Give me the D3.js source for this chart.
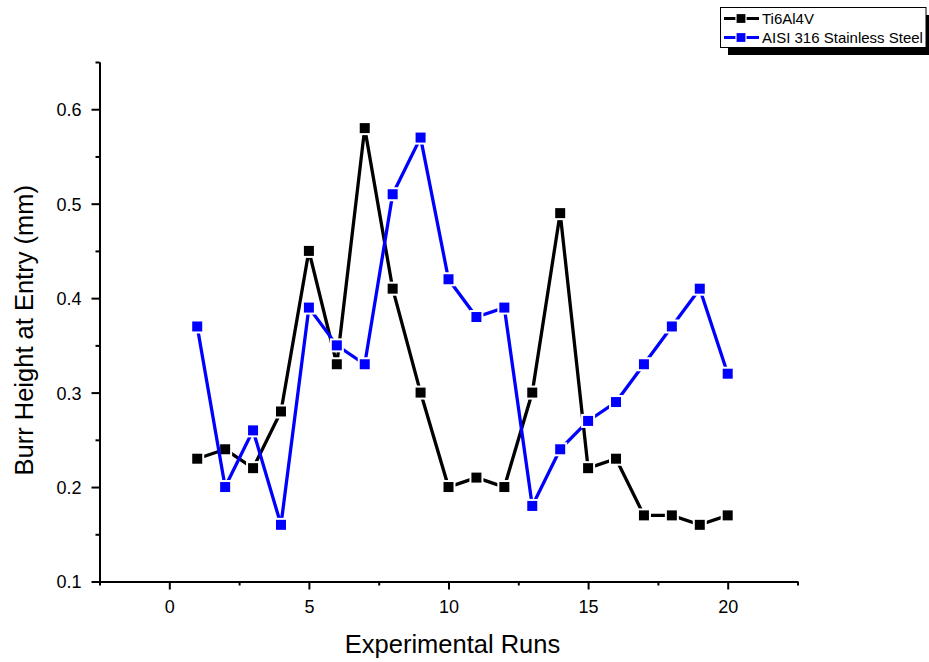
<!DOCTYPE html>
<html>
<head>
<meta charset="utf-8">
<script src="https://cdn.jsdelivr.net/npm/d3@7"></script>
<style>
  html, body { margin: 0; padding: 0; background: #fff; }
  svg { display: block; font-family: "Liberation Sans", Arial, sans-serif; }
</style>
</head>
<body>
<svg id="chart" width="929" height="662"></svg>
<script>
// Experimental runs 1..20
const runs = d3.range(1, 21);
// Burr height at entry (mm)
const ti6al4v = [0.23, 0.24, 0.22, 0.28, 0.45, 0.33, 0.58, 0.41, 0.30, 0.20,
                 0.21, 0.20, 0.30, 0.49, 0.22, 0.23, 0.17, 0.17, 0.16, 0.17];
const aisi316 = [0.37, 0.20, 0.26, 0.16, 0.39, 0.35, 0.33, 0.51, 0.57, 0.42,
                 0.38, 0.39, 0.18, 0.24, 0.27, 0.29, 0.33, 0.37, 0.41, 0.32];
const seriesNames = ["Ti6Al4V", "AISI 316 Stainless Steel"];
const seriesColors = ["#000000", "#0000ff"];
const xTicks = [0, 5, 10, 15, 20];
const yTicks = [0.1, 0.2, 0.3, 0.4, 0.5, 0.6];

const svg = d3.select("#chart");
const FONT = '"Liberation Sans", Arial, sans-serif';
const x = d3.scaleLinear().domain([-2.5, 22.5]).range([99.5, 797.5]);
const y = d3.scaleLinear().domain([0.1, 0.65]).range([581.5, 62]);

// Axes: major ticks with minor ticks between
const xAxis = d3.axisBottom(x).tickValues(xTicks).tickSize(8).tickSizeOuter(0).tickFormat(d3.format("d"));
const xMinor = d3.axisBottom(x).tickValues(d3.range(-2.5, 22.6, 5)).tickSize(4).tickSizeOuter(0).tickFormat("");
const yAxis = d3.axisLeft(y).tickValues(yTicks).tickSize(8).tickSizeOuter(0).tickFormat(d3.format(".1f"));
const yMinor = d3.axisLeft(y).tickValues(d3.range(0.15, 0.66, 0.1)).tickSize(4).tickSizeOuter(0).tickFormat("");

function styleAxis(g) {
  g.attr("font-family", FONT).attr("font-size", 18);
  g.selectAll("path").attr("stroke", "#000").attr("stroke-width", 2);
  g.selectAll("line").attr("stroke", "#000").attr("stroke-width", 2);
  g.selectAll("text").attr("fill", "#000").style("font-size", "18px");
}

svg.append("g").attr("transform", `translate(0,${y(0.1)})`).call(xMinor).call(styleAxis);
svg.append("g").attr("transform", `translate(0,${y(0.1)})`).call(xAxis).call(styleAxis)
  .selectAll("text").attr("y", 31).attr("dy", null);
svg.append("g").attr("transform", `translate(${x(-2.5)},0)`).call(yMinor).call(styleAxis);
svg.append("g").attr("transform", `translate(${x(-2.5)},0)`).call(yAxis).call(styleAxis)
  .selectAll("text").attr("x", -18).attr("dy", "0.36em");

// Axis titles
svg.append("text")
  .attr("x", x(10) + 4).attr("y", 653)
  .attr("text-anchor", "middle")
  .style("font-size", "25.5px")
  .text("Experimental Runs");
svg.append("text")
  .attr("transform", `translate(33,${y(0.366)}) rotate(-90)`)
  .attr("text-anchor", "middle")
  .style("font-size", "25.5px")
  .text("Burr Height at Entry (mm)");

// Series lines and square markers
const data = [ti6al4v, aisi316];
const line = d3.line().x((d, i) => x(runs[i])).y(d => y(d));

data.forEach((vals, si) => {
  const g = svg.append("g");
  g.append("path")
    .datum(vals)
    .attr("fill", "none")
    .attr("stroke", seriesColors[si])
    .attr("stroke-width", 3.3)
    .attr("d", line);
  g.selectAll("rect")
    .data(vals)
    .join("rect")
    .attr("x", (d, i) => x(runs[i]) - 6)
    .attr("y", d => y(d) - 6)
    .attr("width", 12)
    .attr("height", 12)
    .attr("fill", seriesColors[si])
    .attr("stroke", "#fff")
    .attr("stroke-width", 2);
});

// Legend with drop shadow
const lg = svg.append("g");
lg.append("rect").attr("x", 728).attr("y", 15).attr("width", 210).attr("height", 40).attr("fill", "#000");
lg.append("rect").attr("x", 720.5).attr("y", 7.5).attr("width", 205.5).attr("height", 40)
  .attr("fill", "#fff").attr("stroke", "#000").attr("stroke-width", 1);
seriesNames.forEach((name, i) => {
  const cy = 18.5 + i * 19;
  lg.append("line").attr("x1", 724).attr("x2", 759).attr("y1", cy).attr("y2", cy)
    .attr("stroke", seriesColors[i]).attr("stroke-width", 3);
  lg.append("rect").attr("x", 736).attr("y", cy - 5).attr("width", 10).attr("height", 10)
    .attr("fill", seriesColors[i]).attr("stroke", "#fff").attr("stroke-width", 1.2);
  lg.append("text").attr("x", 762).attr("y", cy + 5.5)
    .style("font-size", "15px").text(name);
});
</script>
</body>
</html>
